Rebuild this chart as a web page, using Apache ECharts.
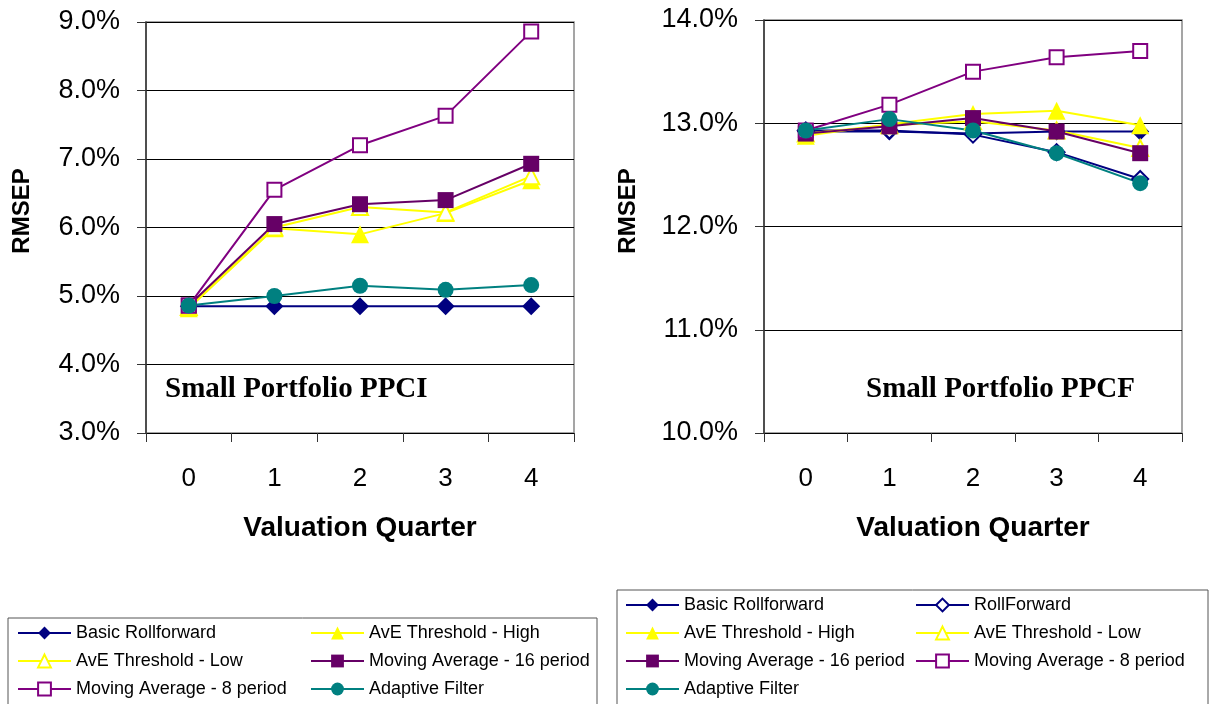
<!DOCTYPE html>
<html>
<head>
<meta charset="utf-8">
<script src="https://cdn.jsdelivr.net/npm/echarts@6/dist/echarts.min.js"></script>
<style>
  html, body { margin: 0; padding: 0; background: #fff; }
  #chart { width: 1215px; height: 704px; }
</style>
</head>
<body>
<div id="chart"></div>
<script>
// Valuation quarters on the x axis
const categories = ['0', '1', '2', '3', '4'];

// Small Portfolio PPCI (RMSEP, %)
const ppciBasic    = [4.85, 4.85, 4.85, 4.85, 4.85];
const ppciAveHigh  = [4.82, 5.99, 5.90, 6.21, 6.69];
const ppciAveLow   = [4.84, 6.00, 6.30, 6.22, 6.75];
const ppciMa16     = [4.86, 6.05, 6.34, 6.40, 6.93];
const ppciMa8      = [4.86, 6.55, 7.20, 7.63, 8.86];
const ppciAdaptive = [4.86, 5.00, 5.15, 5.09, 5.16];

// Small Portfolio PPCF (RMSEP, %)
const ppcfBasic    = [12.92, 12.92, 12.90, 12.92, 12.92];
const ppcfRoll     = [12.93, 12.93, 12.89, 12.72, 12.46];
const ppcfAveHigh  = [12.88, 12.99, 13.09, 13.12, 12.98];
const ppcfAveLow   = [12.90, 12.98, 13.02, 12.93, 12.76];
const ppcfMa16     = [12.90, 12.97, 13.05, 12.92, 12.71];
const ppcfMa8      = [12.93, 13.18, 13.50, 13.64, 13.70];
const ppcfAdaptive = [12.93, 13.04, 12.93, 12.71, 12.42];

// Y-axis ranges
const ppciRange = { min: 3, max: 9 };
const ppcfRange = { min: 10, max: 14 };

const SANS = 'Liberation Sans, Arial, sans-serif';
const SERIF = 'Liberation Serif, Times New Roman, serif';

// Visual style per method
const styles = {
  'Basic Rollforward':          { color: '#000080', symbol: 'diamond', size: 18 },
  'RollForward':                { color: '#000080', symbol: 'emptyDiamond', size: 16 },
  'AvE Threshold - High':       { color: '#FFFF00', symbol: 'triangle', size: 18 },
  'AvE Threshold - Low':        { color: '#FFFF00', symbol: 'emptyTriangle', size: 16 },
  'Moving Average - 16 period': { color: '#660066', symbol: 'rect', size: 16 },
  'Moving Average - 8 period':  { color: '#800080', symbol: 'emptyRect', size: 14 },
  'Adaptive Filter':            { color: '#008080', symbol: 'circle', size: 16 }
};

function makeSeries(name, data, axisIndex) {
  const s = styles[name];
  const empty = s.symbol.indexOf('empty') === 0;
  return {
    name: name,
    type: 'line',
    xAxisIndex: axisIndex,
    yAxisIndex: axisIndex,
    data: data,
    symbol: s.symbol,
    symbolSize: s.size,
    showAllSymbol: true,
    color: s.color,
    lineStyle: { color: s.color, width: 2 },
    itemStyle: { color: s.color, borderColor: s.color, borderWidth: empty ? 1.8 : 0 },
    emphasis: { disabled: true },
    z: 2
  };
}

function xAxis(gridIndex) {
  return {
    type: 'category',
    gridIndex: gridIndex,
    data: categories,
    boundaryGap: true,
    axisLine: { lineStyle: { color: '#000', width: 1 } },
    axisTick: { show: true, alignWithLabel: false, length: 9, lineStyle: { color: '#333' } },
    axisLabel: { color: '#000', fontSize: 26, fontFamily: SANS, margin: 33 },
    name: 'Valuation Quarter',
    nameLocation: 'middle',
    nameGap: 81,
    nameTextStyle: { color: '#000', fontSize: 28, fontWeight: 'bold', fontFamily: SANS }
  };
}

function yAxis(gridIndex, range) {
  return {
    type: 'value',
    gridIndex: gridIndex,
    min: range.min,
    max: range.max,
    interval: 1,
    axisLine: { show: true, lineStyle: { color: '#333', width: 1.5 } },
    axisTick: { show: true, length: 9, lineStyle: { color: '#333' } },
    axisLabel: {
      color: '#000', fontSize: 27, fontFamily: SANS, margin: 26,
      formatter: v => v.toFixed(1) + '%'
    },
    splitLine: { show: true, lineStyle: { color: '#000', width: 1 } }
  };
}

function legendColumn(left, top, names) {
  return {
    orient: 'vertical',
    left: left,
    top: top,
    padding: 0,
    itemGap: 10,
    itemWidth: 53,
    itemHeight: 16,
    selectedMode: false,
    data: names,
    textStyle: { color: '#000', fontSize: 18, fontFamily: SANS }
  };
}

const chart = echarts.init(document.getElementById('chart'), null, { renderer: 'canvas' });

chart.setOption({
  animation: false,
  backgroundColor: '#fff',
  grid: [
    { left: 146, top: 22, width: 428, height: 411, show: true, borderColor: '#888', borderWidth: 1.5, backgroundColor: '#fff' },
    { left: 764, top: 20, width: 418, height: 413, show: true, borderColor: '#888', borderWidth: 1.5, backgroundColor: '#fff' }
  ],
  xAxis: [xAxis(0), xAxis(1)],
  yAxis: [yAxis(0, ppciRange), yAxis(1, ppcfRange)],
  legend: [
    legendColumn(17, 624, ['Basic Rollforward', 'AvE Threshold - Low', 'Moving Average - 8 period']),
    legendColumn(310, 624, ['AvE Threshold - High', 'Moving Average - 16 period', 'Adaptive Filter']),
    legendColumn(625, 596, ['Basic Rollforward', 'AvE Threshold - High', 'Moving Average - 16 period', 'Adaptive Filter']),
    legendColumn(915, 596, ['RollForward', 'AvE Threshold - Low', 'Moving Average - 8 period'])
  ],
  graphic: [
    // Legend frames
    { type: 'rect', shape: { x: 8, y: 618, width: 589, height: 110 }, style: { fill: 'none', stroke: '#555', lineWidth: 1 }, z: -1 },
    { type: 'rect', shape: { x: 617, y: 590, width: 591, height: 140 }, style: { fill: 'none', stroke: '#555', lineWidth: 1 }, z: -1 },
    // Y-axis titles
    { type: 'text', x: 22, y: 211, rotation: Math.PI / 2,
      style: { text: 'RMSEP', font: 'bold 24px ' + SANS, fill: '#000', align: 'center', verticalAlign: 'middle' } },
    { type: 'text', x: 628, y: 211, rotation: Math.PI / 2,
      style: { text: 'RMSEP', font: 'bold 24px ' + SANS, fill: '#000', align: 'center', verticalAlign: 'middle' } },
    // Panel captions
    { type: 'text', x: 165, y: 390, z: 10,
      style: { text: 'Small Portfolio PPCI', font: 'bold 29px ' + SERIF, fill: '#000', align: 'left', verticalAlign: 'middle' } },
    { type: 'text', x: 866, y: 390, z: 10,
      style: { text: 'Small Portfolio PPCF', font: 'bold 29px ' + SERIF, fill: '#000', align: 'left', verticalAlign: 'middle' } }
  ],
  series: [
    makeSeries('Basic Rollforward', ppciBasic, 0),
    makeSeries('AvE Threshold - High', ppciAveHigh, 0),
    makeSeries('AvE Threshold - Low', ppciAveLow, 0),
    makeSeries('Moving Average - 16 period', ppciMa16, 0),
    makeSeries('Moving Average - 8 period', ppciMa8, 0),
    makeSeries('Adaptive Filter', ppciAdaptive, 0),

    makeSeries('Basic Rollforward', ppcfBasic, 1),
    makeSeries('RollForward', ppcfRoll, 1),
    makeSeries('AvE Threshold - High', ppcfAveHigh, 1),
    makeSeries('AvE Threshold - Low', ppcfAveLow, 1),
    makeSeries('Moving Average - 16 period', ppcfMa16, 1),
    makeSeries('Moving Average - 8 period', ppcfMa8, 1),
    makeSeries('Adaptive Filter', ppcfAdaptive, 1)
  ]
});
</script>
</body>
</html>
